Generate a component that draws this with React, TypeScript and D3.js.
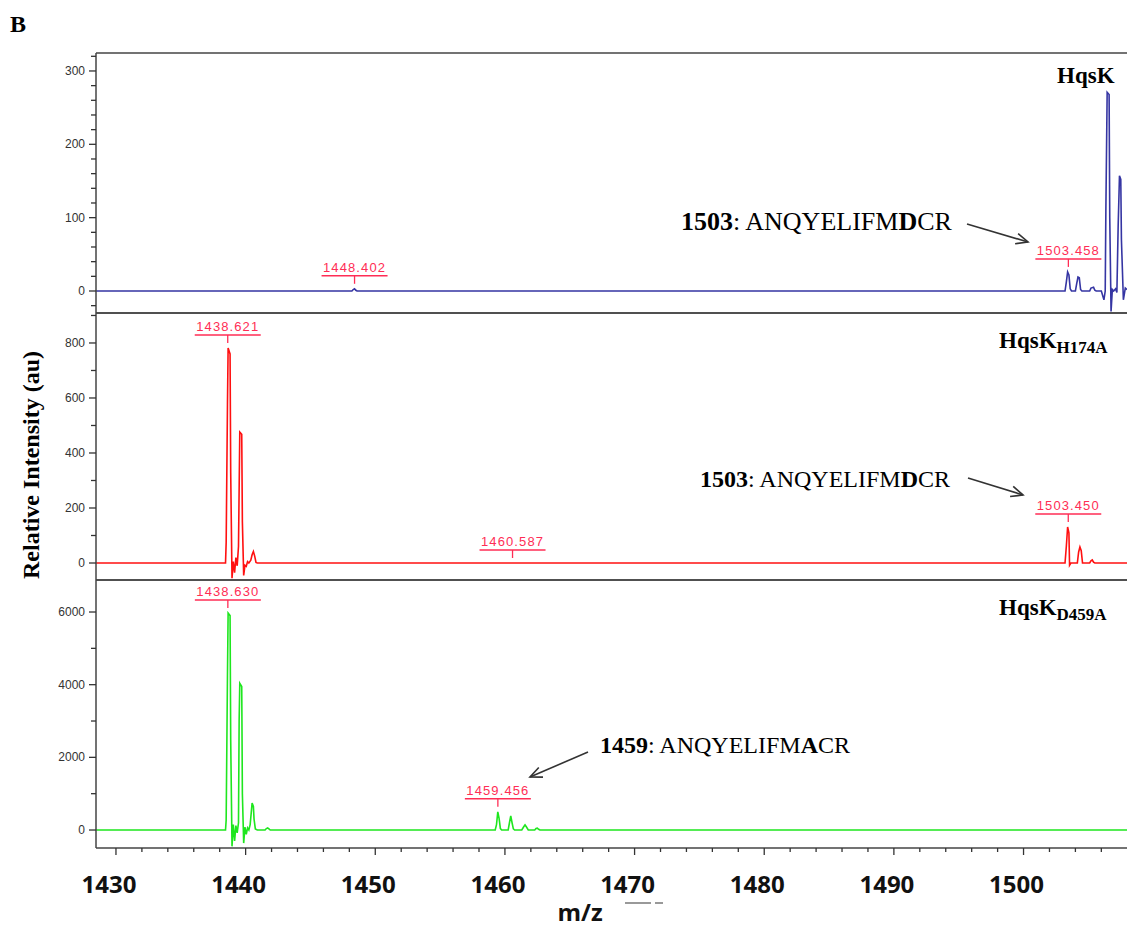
import React from 'react';
import * as d3 from 'd3';

const W = 1127;
const H = 928;

// m/z axis
const mzDomain: [number, number] = [1428.46, 1507.98];
const xMajorTicks = [1430, 1440, 1450, 1460, 1470, 1480, 1490, 1500];
const xMinorTicks = [1432, 1434, 1436, 1438, 1442, 1444, 1446, 1448, 1452, 1454, 1456, 1458, 1462, 1464, 1466, 1468, 1472, 1474, 1476, 1478, 1482, 1484, 1486, 1488, 1492, 1494, 1496, 1498, 1502, 1504, 1506];

// Spectra [m/z, intensity]
const hqsK: [number, number][] = [
  [1428.46, 0], [1448.2, 0], [1448.3, 2], [1448.4, 3], [1448.5, 1], [1448.6, 0],
  [1503.2, 0], [1503.3, 12], [1503.4, 26], [1503.5, 22], [1503.6, 3], [1503.7, 0],
  [1504.0, 0], [1504.1, 10], [1504.2, 19], [1504.3, 18], [1504.4, 2], [1504.5, 0],
  [1505.1, 0], [1505.2, 4], [1505.4, 5], [1505.5, 1], [1505.6, 0],
  [1506.0, 0], [1506.2, -12], [1506.3, 0], [1506.35, 110], [1506.45, 271], [1506.6, 268], [1506.65, 100],
  [1506.75, -28], [1506.85, 2], [1506.95, 0], [1507.1, 3], [1507.2, -2], [1507.3, 90], [1507.4, 157],
  [1507.5, 152], [1507.55, 70], [1507.7, -12], [1507.85, 4], [1507.98, 2],
];

const hqsKH174A: [number, number][] = [
  [1428.46, 0], [1438.45, 0], [1438.5, 75], [1438.6, 575], [1438.65, 782], [1438.8, 760], [1438.85, 327],
  [1438.95, -55], [1439.05, 5], [1439.15, -35], [1439.25, 20], [1439.35, -10], [1439.45, 60], [1439.55, 476],
  [1439.7, 468], [1439.75, 150], [1439.85, -45], [1439.95, -8], [1440.05, -12], [1440.15, 5], [1440.25, 0],
  [1440.4, 10], [1440.5, 30], [1440.6, 42], [1440.7, 25], [1440.8, 2], [1440.9, 0],
  [1503.2, 0], [1503.3, 60], [1503.4, 131], [1503.5, 110], [1503.55, -8], [1503.65, 0],
  [1504.15, 0], [1504.25, 40], [1504.35, 58], [1504.45, 45], [1504.55, 0],
  [1505.1, 0], [1505.2, 8], [1505.3, 11], [1505.4, 3], [1505.5, 0], [1507.98, 0],
];

const hqsKD459A: [number, number][] = [
  [1428.46, 0], [1438.45, 0], [1438.5, 275], [1438.6, 4260], [1438.65, 5970], [1438.8, 5900], [1438.85, 2475],
  [1438.95, -450], [1439.05, 150], [1439.15, -300], [1439.25, 120], [1439.35, -80], [1439.45, 200],
  [1439.5, 3000], [1439.55, 4040], [1439.7, 3950], [1439.75, 1000], [1439.85, -360], [1439.95, 80],
  [1440.05, -120], [1440.15, 60], [1440.25, 0], [1440.35, 150], [1440.5, 740], [1440.6, 650], [1440.65, 300],
  [1440.75, 30], [1440.9, 0], [1441.5, 0], [1441.6, 40], [1441.7, 55], [1441.8, 30], [1441.9, 0],
  [1459.25, 0], [1459.35, 150], [1459.45, 500], [1459.55, 320], [1459.65, 40], [1459.75, 0],
  [1460.25, 0], [1460.35, 200], [1460.45, 385], [1460.55, 200], [1460.65, 30], [1460.75, 0],
  [1461.3, 0], [1461.45, 90], [1461.55, 140], [1461.65, 90], [1461.8, 0],
  [1462.3, 0], [1462.4, 40], [1462.5, 50], [1462.6, 20], [1462.7, 0], [1507.98, 0],
];

// Peak labels [m/z, intensity at marker, label]
const hqsKLabels: [number, number, string][] = [[1448.402, 3, '1448.402'], [1503.458, 26, '1503.458']];
const h174aLabels: [number, number, string][] = [[1438.621, 782, '1438.621'], [1460.587, 0, '1460.587'], [1503.450, 131, '1503.450']];
const d459aLabels: [number, number, string][] = [[1438.630, 5970, '1438.630'], [1459.456, 500, '1459.456']];

// y ticks
const topMajor = [0, 100, 200, 300];
const topMinor = [-20, 20, 40, 60, 80, 120, 140, 160, 180, 220, 240, 260, 280, 320];
const midMajor = [0, 200, 400, 600, 800];
const midMinor = [100, 300, 500, 700, 900];
const botMajor = [0, 2000, 4000, 6000];
const botMinor = [1000, 3000, 5000];

const serif = '"Liberation Serif", "Times New Roman", serif';
const sans = '"Liberation Sans", Arial, sans-serif';
const labelRed = '#ff2d55';

interface PanelDef {
  key: string;
  top: number;
  bottom: number;
  yDomain: [number, number];
  data: [number, number][];
  color: string;
  major: number[];
  minor: number[];
  labels: [number, number, string][];
  name: string;
  sub: string;
  nameX: number;
  nameY: number;
}

const panels: PanelDef[] = [
  { key: 'a', top: 53, bottom: 313, yDomain: [-30, 324.5], data: hqsK, color: '#3535a3', major: topMajor, minor: topMinor, labels: hqsKLabels, name: 'HqsK', sub: '', nameX: 1057, nameY: 83 },
  { key: 'b', top: 313, bottom: 580, yDomain: [-61.8, 909], data: hqsKH174A, color: '#ff1010', major: midMajor, minor: midMinor, labels: h174aLabels, name: 'HqsK', sub: 'H174A', nameX: 999, nameY: 348 },
  { key: 'c', top: 580, bottom: 848, yDomain: [-495, 6881], data: hqsKD459A, color: '#1ee61e', major: botMajor, minor: botMinor, labels: d459aLabels, name: 'HqsK', sub: 'D459A', nameX: 999, nameY: 615 },
];

const L = 96;
const R = 1127;

function Arrow({ x1, y1, x2, y2 }: { x1: number; y1: number; x2: number; y2: number }) {
  const ang = Math.atan2(y2 - y1, x2 - x1);
  const len = 13;
  const spread = 0.42;
  const a1 = ang + Math.PI - spread;
  const a2 = ang + Math.PI + spread;
  return (
    <g stroke="#333" strokeWidth={1.6} fill="none">
      <line x1={x1} y1={y1} x2={x2} y2={y2} />
      <polyline points={`${x2 + len * Math.cos(a1)},${y2 + len * Math.sin(a1)} ${x2},${y2} ${x2 + len * Math.cos(a2)},${y2 + len * Math.sin(a2)}`} />
    </g>
  );
}

export default function App() {
  const x = d3.scaleLinear().domain(mzDomain).range([L, R]);

  return (
    <svg width={W} height={H} style={{ position: 'absolute', left: 0, top: 0, background: '#fff' }}>
      <defs>
        {panels.map((p) => (
          <clipPath id={`clip-${p.key}`} key={p.key}>
            <rect x={L} y={p.top} width={R - L} height={p.bottom - p.top} />
          </clipPath>
        ))}
      </defs>
      <rect width={W} height={H} fill="#fff" />
      <text x={10} y={32} fontFamily={serif} fontWeight="bold" fontSize={24} fill="#000">B</text>

      {panels.map((p) => {
        const y = d3.scaleLinear().domain(p.yDomain).range([p.bottom, p.top]);
        const line = d3.line<[number, number]>().x((d) => x(d[0])).y((d) => y(d[1]));
        return (
          <g key={p.key}>
            <path d={line(p.data) || ''} fill="none" stroke={p.color} strokeWidth={1.6} clipPath={`url(#clip-${p.key})`} />
            {/* frame */}
            <line x1={L} x2={R} y1={p.top} y2={p.top} stroke="#444" strokeWidth={1.5} />
            <line x1={L} x2={R} y1={p.bottom} y2={p.bottom} stroke="#444" strokeWidth={1.5} />
            <line x1={L} x2={L} y1={p.top} y2={p.bottom} stroke="#444" strokeWidth={1.5} />
            {/* y ticks */}
            {p.major.map((t) => (
              <g key={`M${t}`}>
                <line x1={L - 7} x2={L} y1={y(t)} y2={y(t)} stroke="#333" strokeWidth={1.3} />
                <text x={L - 11} y={y(t) + 4} textAnchor="end" fontFamily={sans} fontSize={12} fill="#333">{t}</text>
              </g>
            ))}
            {p.minor.map((t) => (
              <line key={`m${t}`} x1={L - 5} x2={L} y1={y(t)} y2={y(t)} stroke="#333" strokeWidth={1.3} />
            ))}
            {/* peak labels */}
            {p.labels.map(([mz, v, txt]) => {
              const px = x(mz);
              const ly = y(v) - 13;
              return (
                <g key={txt}>
                  <text x={px} y={ly - 4} textAnchor="middle" fontFamily={sans} fontSize={13} letterSpacing={1.1} fill={labelRed}>{txt}</text>
                  <line x1={px - 33} x2={px + 33} y1={ly} y2={ly} stroke={labelRed} strokeWidth={1.5} />
                  <line x1={px} x2={px} y1={ly} y2={ly + 8} stroke={labelRed} strokeWidth={1.3} />
                </g>
              );
            })}
            {/* panel name */}
            <text x={p.nameX} y={p.nameY} fontFamily={serif} fontWeight="bold" fontSize={23} fill="#000">
              {p.name}
              {p.sub && <tspan fontSize={17} dy={5}>{p.sub}</tspan>}
            </text>
          </g>
        );
      })}

      {/* annotations */}
      <text x={681} y={230} fontFamily={serif} fontSize={26} fill="#000">
        <tspan fontWeight="bold">1503</tspan>: ANQYELIFM<tspan fontWeight="bold">D</tspan>CR
      </text>
      <Arrow x1={967} y1={224} x2={1028} y2={242} />
      <text x={700} y={487} fontFamily={serif} fontSize={24} fill="#000">
        <tspan fontWeight="bold">1503</tspan>: ANQYELIFM<tspan fontWeight="bold">D</tspan>CR
      </text>
      <Arrow x1={968} y1={478} x2={1023} y2={495} />
      <text x={600} y={753} fontFamily={serif} fontSize={24} fill="#000">
        <tspan fontWeight="bold">1459</tspan>: ANQYELIFM<tspan fontWeight="bold">A</tspan>CR
      </text>
      <Arrow x1={588} y1={752} x2={530} y2={777} />

      {/* x axis */}
      {xMajorTicks.map((t) => (
        <g key={`x${t}`}>
          <line x1={x(t)} x2={x(t)} y1={848} y2={855} stroke="#333" strokeWidth={1.3} />
          <text x={x(t) - 7} y={893} textAnchor="middle" fontFamily='"Open Sans", sans-serif' fontWeight="bold" fontSize={24} fill="#111">{t}</text>
        </g>
      ))}
      {xMinorTicks.map((t) => (
        <line key={`xm${t}`} x1={x(t)} x2={x(t)} y1={848} y2={852} stroke="#333" strokeWidth={1.3} />
      ))}
      <text x={580} y={921} textAnchor="middle" fontFamily='"Open Sans", sans-serif' fontWeight="bold" fontSize={24} fill="#111">m/z</text>
      <line x1={625} x2={651} y1={903} y2={903} stroke="#555" strokeWidth={1.2} />
      <line x1={655} x2={663} y1={903} y2={903} stroke="#555" strokeWidth={1.2} />

      {/* y title */}
      <text transform="translate(39,465) rotate(-90)" textAnchor="middle" fontFamily={serif} fontWeight="bold" fontSize={24} fill="#000">
        Relative Intensity (au)
      </text>
    </svg>
  );
}
